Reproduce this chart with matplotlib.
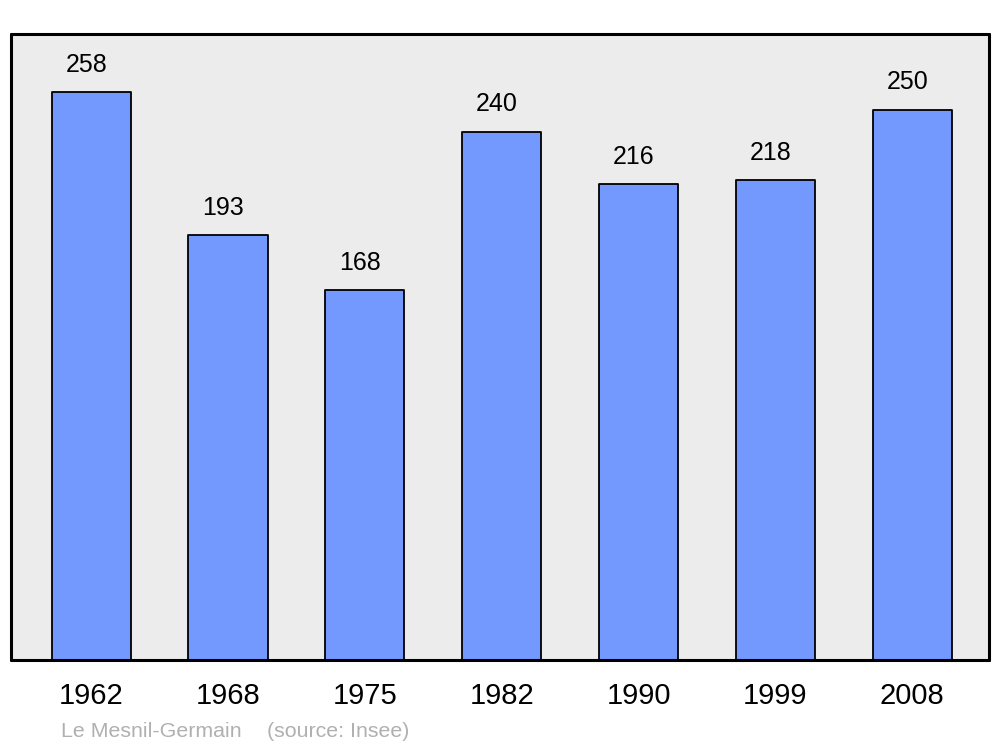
import numpy as np
import matplotlib.pyplot as plt

# population data
years = ['1962', '1968', '1975', '1982', '1990', '1999', '2008']
pop = [258, 193, 168, 240, 216, 218, 250]

plt.rcParams['font.family'] = ['Liberation Sans', 'DejaVu Sans']

fig = plt.figure(figsize=(10, 7.47), dpi=100)
ax = fig.add_axes([0.011, 0.1165, 0.978, 0.838])
ax.set_facecolor('#ececec')

x = np.arange(len(years))
bars = ax.bar(x, pop, width=0.578, color='#7399ff', edgecolor='black', linewidth=1.3)
for b in bars:
    b.set_joinstyle('round')

for xi, v in zip(x, pop):
    ax.annotate(str(v), (xi, v), xytext=(-3.5, 11), textcoords='offset points',
                ha='center', va='bottom', fontsize=18)

ax.set_xlim(-0.585, 6.56)
ax.set_ylim(0, 284.3)
ax.set_xticks(x)
ax.set_xticklabels(years, fontsize=21)
ax.tick_params(axis='x', length=0, pad=16)
ax.set_yticks([])
for s in ax.spines.values():
    s.set_linewidth(2.2)
    s.set_capstyle('round')

fig.text(0.061, 0.013, 'Le Mesnil-Germain', color='#b0b0b0', fontsize=15.4, va='baseline')
fig.text(0.267, 0.013, '(source: Insee)', color='#b0b0b0', fontsize=15.4, va='baseline')

fig.savefig('out.png')
